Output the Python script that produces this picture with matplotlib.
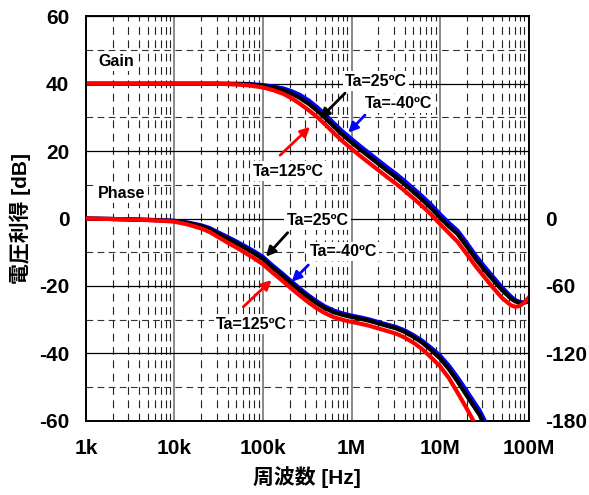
"""
plot.py

Open-loop gain / phase vs. frequency for three ambient temperatures.
Saves the chart as out.png.
"""

import matplotlib
matplotlib.use("Agg")

import matplotlib.pyplot as plt
from matplotlib.ticker import FixedLocator, LogLocator, NullFormatter

plt.rcParams["font.family"] = ["Liberation Sans", "Noto Sans CJK JP"]
plt.rcParams["font.weight"] = "bold"

COLOR_COLD = "#0000FF"   # Ta=-40C
COLOR_ROOM = "#000000"   # Ta=25C
COLOR_HOT = "#FF0000"    # Ta=125C

# ---- gain [dB] -------------------------------------------------------------
gain_freq = [1e3, 10e3, 30e3, 50e3, 70e3, 100e3, 130e3, 170e3, 210e3, 260e3,
             330e3, 410e3, 510e3, 620e3, 780e3, 1e6, 1.25e6, 1.6e6, 2e6,
             2.5e6, 3.2e6, 4e6, 5e6, 6.3e6, 8e6, 10e6, 12.6e6, 15.8e6, 20e6,
             25e6, 31.6e6, 40e6, 50e6, 63e6, 71e6, 80e6, 90e6, 100e6]
gain_cold = [40, 40, 40, 40, 39.9, 39.6, 39.2, 38.6, 37.8, 36.7,
             35.0, 33.0, 30.7, 28.5, 26.0, 23.6, 21.5, 19.3, 17.3,
             15.3, 13.2, 11.1, 8.9, 6.6, 4.0, 1.3, -1.3, -3.6, -7.2,
             -10.8, -14.2, -17.4, -20.4, -23.1, -24.2, -24.8, -24.9, -24.6]
gain_room = [40, 40, 40, 39.9, 39.8, 39.4, 38.9, 38.1, 37.1, 35.8,
             34.0, 32.0, 29.7, 27.5, 25.0, 22.6, 20.5, 18.3, 16.3,
             14.3, 12.2, 10.1, 7.9, 5.6, 3.0, 0.3, -2.3, -4.6, -8.2,
             -11.8, -15.2, -18.3, -21.2, -23.7, -24.6, -25.0, -24.9, -24.5]
gain_hot = [40, 40, 40, 39.8, 39.5, 38.9, 38.1, 37.0, 35.7, 34.1,
            32.1, 30.1, 27.8, 25.6, 23.1, 20.7, 18.6, 16.4, 14.4,
            12.4, 10.3, 8.2, 6.0, 3.7, 1.1, -1.6, -4.3, -6.9, -10.5,
            -14.0, -17.3, -20.6, -23.5, -25.7, -26.2, -25.9, -24.9, -23.5]

# ---- phase [deg] -----------------------------------------------------------
phase_freq = [1e3, 2e3, 4e3, 7e3, 10e3, 14e3, 20e3, 25e3, 32e3, 40e3, 50e3,
              63e3, 79e3, 100e3, 126e3, 158e3, 200e3, 251e3, 316e3, 398e3,
              500e3, 631e3, 794e3, 1e6, 1.26e6, 1.58e6, 2e6, 2.5e6, 3.2e6,
              4e6, 5e6, 6.3e6, 7.9e6, 10e6, 12.6e6, 15.8e6, 20e6, 25e6,
              28.1e6, 34e6]
phase_cold = [0, -0.4, -0.9, -1.5, -2.0, -3.5, -6.0, -8.5, -12.8, -16.5,
              -20.4, -24.7, -29.1, -34.2, -41.3, -47.6, -54.6, -61.2, -67.6,
              -73.3, -78.2, -81.9, -84.5, -86.4, -88.0, -89.8, -92.1, -94.3,
              -96.6, -99.6, -103.8, -108.8, -115.0, -122.0, -131.0, -141.5,
              -153.5, -165.0, -171.0, -184.0]
phase_room = [0, -0.4, -1.0, -1.6, -2.2, -3.9, -6.8, -9.5, -14.0, -17.8,
              -21.8, -26.3, -30.8, -36.0, -43.2, -49.5, -56.5, -63.0, -69.3,
              -75.0, -79.8, -83.4, -85.8, -87.6, -89.2, -91.0, -93.3, -95.5,
              -97.8, -101.0, -105.3, -110.5, -117.0, -124.5, -134.0, -145.0,
              -157.5, -169.0, -175.0, -190.0]
phase_hot = [0, -0.4, -1.1, -1.9, -2.8, -5.2, -8.8, -12.0, -17.0, -21.5,
             -25.8, -30.6, -35.3, -40.7, -47.7, -54.0, -61.0, -67.5, -73.8,
             -79.5, -84.2, -87.8, -90.2, -92.0, -93.6, -95.4, -97.8, -100.0,
             -102.5, -106.0, -110.5, -116.3, -123.5, -131.5, -142.0, -155.0,
             -169.0, -183.0, -190.0, -205.0]

x_ticks = [1e3, 1e4, 1e5, 1e6, 1e7, 1e8]
x_tick_labels = ["1k", "10k", "100k", "1M", "10M", "100M"]
gain_ticks = [-60, -40, -20, 0, 20, 40, 60]
phase_ticks = [0, -60, -120, -180]

LABEL_SIZE = 15
NOTE_SIZE = 11.5
WHITE_BOX = dict(facecolor="white", edgecolor="none", pad=1.5)


def arrow(ax, tip, tail, color):
    ax.annotate("", xy=tip, xytext=tail,
                arrowprops=dict(arrowstyle="-|>", color=color, lw=2,
                                mutation_scale=14, shrinkA=0, shrinkB=0),
                zorder=6)


def label(ax, x, y, text, ha="center"):
    ax.text(x, y, text, fontsize=NOTE_SIZE, fontweight="bold",
            va="center", ha=ha, bbox=WHITE_BOX, zorder=5)


fig = plt.figure(figsize=(5.89, 4.95), dpi=100)
ax = fig.add_axes([0.146, 0.150, 0.7513, 0.817])

ax.set_xscale("log")
ax.set_xlim(1e3, 1e8)
ax.set_ylim(-60, 60)

# grid
ax.xaxis.set_major_locator(FixedLocator(x_ticks))
ax.xaxis.set_minor_locator(LogLocator(base=10, subs=range(2, 10), numticks=20))
ax.xaxis.set_minor_formatter(NullFormatter())
ax.set_yticks(gain_ticks)
ax.yaxis.set_minor_locator(FixedLocator([-50, -30, -10, 10, 30, 50]))
ax.grid(which="major", axis="x", color="#808080", lw=1.3, ls="-")
ax.grid(which="major", axis="y", color="black", lw=0.9, ls="-")
ax.grid(which="minor", axis="x", color="#222222", lw=0.8, ls=(0, (7, 5)))
ax.grid(which="minor", axis="y", color="#333333", lw=0.8, ls=(0, (6, 4)))
ax.set_axisbelow(True)

ax.set_xticklabels(x_tick_labels, fontsize=LABEL_SIZE, fontweight="bold")
ax.set_yticklabels([str(v) for v in gain_ticks], fontsize=LABEL_SIZE,
                   fontweight="bold")
ax.tick_params(which="both", length=0)
ax.tick_params(axis="x", pad=13)
ax.tick_params(axis="y", pad=12)
for s in ax.spines.values():
    s.set_linewidth(1.2)

ax.set_xlabel("周波数 [Hz]", fontsize=LABEL_SIZE, fontweight="bold", labelpad=6)
ax.set_ylabel("電圧利得 [dB]", fontsize=LABEL_SIZE, fontweight="bold", labelpad=6)

# gain curves
ax.plot(gain_freq, gain_cold, color=COLOR_COLD, lw=3, zorder=3)
ax.plot(gain_freq, gain_room, color=COLOR_ROOM, lw=3, zorder=3)
ax.plot(gain_freq, gain_hot, color=COLOR_HOT, lw=3, zorder=3)

# phase on the right axis (0 deg lines up with 0 dB, -180 deg with -60 dB)
ax2 = ax.twinx()
ax2.set_ylim(-180, 180)
ax2.set_yticks(phase_ticks)
ax2.set_yticklabels([str(v) for v in phase_ticks], fontsize=LABEL_SIZE,
                    fontweight="bold")
ax2.tick_params(length=0, pad=12)
for s in ax2.spines.values():
    s.set_linewidth(1.2)
ax2.plot(phase_freq, phase_cold, color=COLOR_COLD, lw=3, zorder=3)
ax2.plot(phase_freq, phase_room, color=COLOR_ROOM, lw=3, zorder=3)
ax2.plot(phase_freq, phase_hot, color=COLOR_HOT, lw=3, zorder=3)

# texts and arrows, gain part
label(ax, 1.37e3, 46.6, "Gain", ha="left")
label(ax, 1.89e6, 40.8, "Ta=25ºC")
label(ax, 3.44e6, 34.2, "Ta=-40ºC")
label(ax, 192e3, 14.1, "Ta=125ºC")
arrow(ax, (441e3, 29.7), (845e3, 37.2), COLOR_ROOM)
arrow(ax, (920e3, 25.5), (1.42e6, 30.7), COLOR_COLD)
arrow(ax, (340e3, 27.2), (156e3, 18.8), COLOR_HOT)

# texts and arrows, phase part
label(ax, 1.37e3, 7.4, "Phase", ha="left")
label(ax, 413e3, -0.45, "Ta=25ºC")
label(ax, 812e3, -9.9, "Ta=-40ºC")
label(ax, 74.5e3, -31.3, "Ta=125ºC")
arrow(ax, (108e3, -11.3), (190e3, -4.2), COLOR_ROOM)
arrow(ax, (211e3, -18.75), (325e3, -13.8), COLOR_COLD)
arrow(ax, (125e3, -18.25), (59.9e3, -26.2), COLOR_HOT)

fig.savefig("out.png", dpi=100)
